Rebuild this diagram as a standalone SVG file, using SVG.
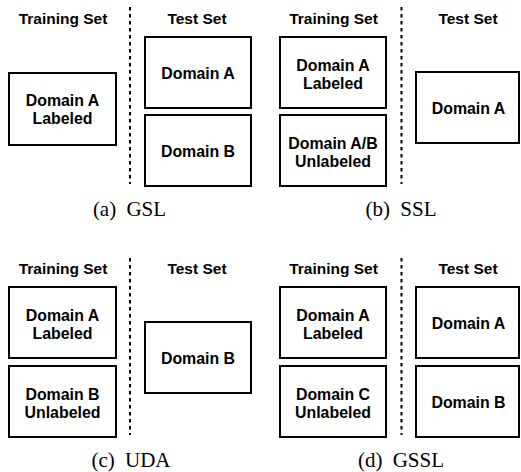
<svg xmlns="http://www.w3.org/2000/svg" width="521" height="472" viewBox="0 0 521 472">
<style>
.box{fill:#fff;stroke:#000;stroke-width:2}
.t{font-family:"Liberation Sans",Arial,sans-serif;font-weight:bold;font-size:15.5px;fill:#000;text-anchor:middle}
.b{font-size:15.9px}
.cap{font-family:"Liberation Serif","Times New Roman",serif;font-size:21px;fill:#000;text-anchor:middle}
.div{stroke:#000;stroke-width:2;stroke-dasharray:3.5 3.5;fill:none}
</style>
<rect width="521" height="472" fill="#fff"/>
<g id="dividers">
<line class="div" x1="130" y1="7" x2="130" y2="184"/>
<line class="div" x1="401.5" y1="7" x2="401.5" y2="184"/>
<line class="div" x1="130" y1="258" x2="130" y2="435"/>
<line class="div" x1="401.5" y1="258" x2="401.5" y2="435"/>
</g>
<!-- (a) GSL -->
<g id="gsl-headers">
<text class="t" x="63" y="23.5">Training Set</text>
<text class="t" x="197" y="23.5">Test Set</text>
</g>
<g id="gsl-train-a">
<rect class="box" x="9" y="73" width="107" height="72"/>
<text class="t b" x="62.5" y="106">Domain A</text>
<text class="t b" x="62.5" y="124">Labeled</text>
</g>
<g id="gsl-test-a">
<rect class="box" x="145" y="37" width="106" height="71"/>
<text class="t b" x="198" y="78.5">Domain A</text>
</g>
<g id="gsl-test-b">
<rect class="box" x="145" y="115" width="106" height="71"/>
<text class="t b" x="198" y="156.5">Domain B</text>
</g>
<text class="cap" x="129.5" y="216">(a)<tspan dx="5"> GSL</tspan></text>
<!-- (b) SSL -->
<g id="ssl-headers">
<text class="t" x="333.5" y="23.5">Training Set</text>
<text class="t" x="468" y="23.5">Test Set</text>
</g>
<g id="ssl-train-a">
<rect class="box" x="280" y="37" width="106" height="71"/>
<text class="t b" x="333" y="70.5">Domain A</text>
<text class="t b" x="333" y="88.5">Labeled</text>
</g>
<g id="ssl-train-ab">
<rect class="box" x="280" y="115" width="106" height="71"/>
<text class="t b" x="333" y="148.5">Domain A/B</text>
<text class="t b" x="333" y="166.5">Unlabeled</text>
</g>
<g id="ssl-test-a">
<rect class="box" x="416" y="72" width="103" height="71"/>
<text class="t b" x="468.5" y="113.5">Domain A</text>
</g>
<text class="cap" x="401" y="216">(b)<tspan dx="5"> SSL</tspan></text>
<!-- (c) UDA -->
<g id="uda-headers">
<text class="t" x="63" y="273.5">Training Set</text>
<text class="t" x="197" y="273.5">Test Set</text>
</g>
<g id="uda-train-a">
<rect class="box" x="9" y="287" width="107" height="71"/>
<text class="t b" x="62.5" y="320.5">Domain A</text>
<text class="t b" x="62.5" y="338.5">Labeled</text>
</g>
<g id="uda-train-b">
<rect class="box" x="9" y="366" width="107" height="71"/>
<text class="t b" x="62.5" y="399.5">Domain B</text>
<text class="t b" x="62.5" y="417.5">Unlabeled</text>
</g>
<g id="uda-test-b">
<rect class="box" x="145" y="322" width="106" height="71"/>
<text class="t b" x="198" y="363.5">Domain B</text>
</g>
<text class="cap" x="131" y="467">(c)<tspan dx="5"> UDA</tspan></text>
<!-- (d) GSSL -->
<g id="gssl-headers">
<text class="t" x="333.5" y="273.5">Training Set</text>
<text class="t" x="468" y="273.5">Test Set</text>
</g>
<g id="gssl-train-a">
<rect class="box" x="280" y="287" width="106" height="71"/>
<text class="t b" x="333" y="320.5">Domain A</text>
<text class="t b" x="333" y="338.5">Labeled</text>
</g>
<g id="gssl-train-c">
<rect class="box" x="280" y="366" width="106" height="71"/>
<text class="t b" x="333" y="399.5">Domain C</text>
<text class="t b" x="333" y="417.5">Unlabeled</text>
</g>
<g id="gssl-test-a">
<rect class="box" x="416" y="287" width="103" height="71"/>
<text class="t b" x="468.5" y="328.5">Domain A</text>
</g>
<g id="gssl-test-b">
<rect class="box" x="416" y="366" width="103" height="71"/>
<text class="t b" x="468.5" y="407.5">Domain B</text>
</g>
<text class="cap" x="401" y="467">(d)<tspan dx="5"> GSSL</tspan></text>
</svg>
